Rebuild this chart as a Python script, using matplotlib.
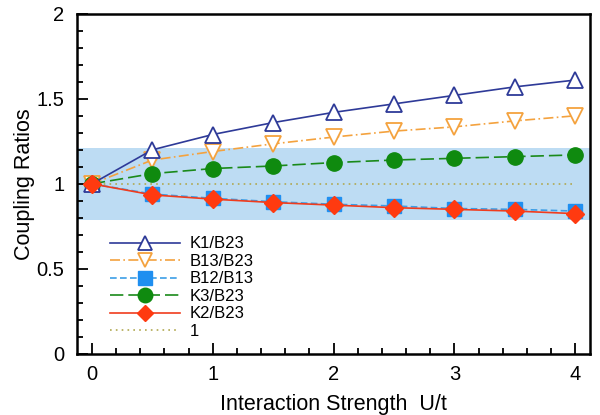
import matplotlib
matplotlib.use("Agg")
import matplotlib.pyplot as plt
from matplotlib.ticker import MultipleLocator

plt.rcParams['font.family'] = ['Liberation Sans', 'DejaVu Sans']

U = [0, 0.5, 1, 1.5, 2, 2.5, 3, 3.5, 4]
k1_b23 = [1.0, 1.20, 1.29, 1.36, 1.42, 1.47, 1.52, 1.57, 1.61]
b13_b23 = [1.0, 1.14, 1.19, 1.235, 1.275, 1.31, 1.335, 1.37, 1.40]
b12_b13 = [1.0, 0.94, 0.915, 0.895, 0.88, 0.87, 0.855, 0.85, 0.84]
k3_b23 = [1.0, 1.06, 1.09, 1.105, 1.125, 1.14, 1.15, 1.16, 1.17]
k2_b23 = [1.0, 0.935, 0.91, 0.89, 0.875, 0.86, 0.85, 0.84, 0.825]
one = [1.0] * len(U)
band = (0.785, 1.21)

fig = plt.figure(figsize=(6.0, 4.15), dpi=100)
ax = fig.add_axes([0.128, 0.147, 0.855, 0.82])

ax.axhspan(band[0], band[1], color='#bddcf3', zorder=0, lw=0)

ax.plot(U, k1_b23, color='#2e3a98', lw=1.2, ls='-', marker='^', ms=11,
        mfc='white', mec='#2e3a98', mew=1.3, label='K1/B23', zorder=5)
ax.plot(U, b13_b23, color='#f4a23e', lw=1.2, ls=(0, (6, 2, 1, 2)), marker='v', ms=11,
        mfc='white', mec='#f4a23e', mew=1.3, label='B13/B23', zorder=4)
ax.plot(U, b12_b13, color='#3c9ee6', lw=1.2, ls=(0, (4, 2)), marker='s', ms=10,
        mfc='#1f8ff0', mec='#1f8ff0', label='B12/B13', zorder=3)
ax.plot(U, k3_b23, color='#1a8a1a', lw=1.2, ls=(0, (8, 3)), marker='o', ms=11,
        mfc='#0f8a0f', mec='#0f8a0f', label='K3/B23', zorder=4)
ax.plot(U, k2_b23, color='#f03c1e', lw=1.2, ls='-', marker='D', ms=9,
        mfc='#ff3a10', mec='#ff3a10', label='K2/B23', zorder=6)
ax.plot(U, one, color='#b0a850', lw=1.2, ls=(0, (1, 2.5)), label='1', zorder=2)

ax.set_xlim(-0.125, 4.12)
ax.set_ylim(0, 2)
ax.xaxis.set_major_locator(MultipleLocator(1))
ax.xaxis.set_minor_locator(MultipleLocator(0.2))
ax.yaxis.set_minor_locator(MultipleLocator(0.1))
ax.set_yticks([0, 0.5, 1, 1.5, 2])
ax.set_yticklabels(['0', '0.5', '1', '1.5', '2'])
ax.tick_params(which='both', direction='in', top=False, right=False, labelsize=14.5, width=1.3)
ax.tick_params(which='major', length=8)
ax.tick_params(axis='x', which='major', pad=8)
ax.tick_params(axis='y', which='major', pad=9)
ax.tick_params(which='minor', length=4)
for s in ax.spines.values():
    s.set_linewidth(1.8)

ax.set_xlabel('Interaction Strength  U/t', fontsize=15.5, labelpad=7)
ax.set_ylabel('Coupling Ratios', fontsize=15.5, labelpad=1)

ax.legend(loc='lower left', bbox_to_anchor=(0.042, 0.01), frameon=False, fontsize=12,
          handlelength=4.2, handletextpad=0.6, labelspacing=0.15, borderaxespad=0.3,
          markerscale=0.95)

fig.savefig('out.png', dpi=100)
